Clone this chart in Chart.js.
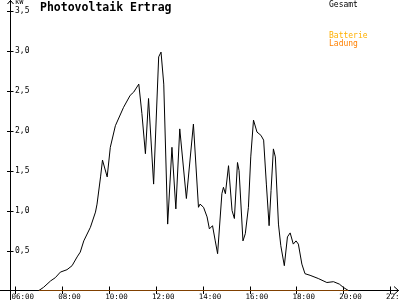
<!DOCTYPE html>
<html>
<head>
<meta charset="utf-8">
<script src="https://cdn.jsdelivr.net/npm/chart.js@4"></script>
<style>
  html, body { margin: 0; padding: 0; background: #fff; }
  canvas { display: block; }
</style>
</head>
<body>
<canvas id="pv" width="400" height="300"></canvas>
<script>
// Gesamt (kW)
var times = ["07:00","07:12","07:30","07:42","07:55","08:12","08:25","08:38","08:46","08:55",
  "09:12","09:25","09:29","09:38","09:43","09:55","10:03","10:16","10:37","10:54",
  "11:03","11:16","11:24","11:33","11:41","11:54","12:07","12:13","12:20","12:30",
  "12:41","12:51","13:01","13:18","13:36","13:49","13:53","14:02","14:11","14:17",
  "14:25","14:32","14:38","14:49","14:53","14:58","15:06","15:15","15:21","15:29",
  "15:33","15:43","15:49","15:57","16:03","16:10","16:19","16:29","16:36","16:43",
  "16:50","16:55","17:01","17:06","17:14","17:20","17:29","17:37","17:44","17:52",
  "17:59","18:05","18:14","18:22","18:35","18:56","19:18","19:35","19:50","20:00","20:13"];
var gesamt = [0,0.04,0.12,0.16,0.23,0.26,0.31,0.42,0.48,0.62,
  0.79,0.98,1.08,1.42,1.63,1.42,1.79,2.06,2.29,2.44,
  2.48,2.58,2.21,1.71,2.40,1.33,2.92,2.98,2.58,0.83,
  1.79,1.02,2.02,1.15,2.08,1.04,1.08,1.04,0.92,0.77,
  0.81,0.62,0.46,1.21,1.29,1.21,1.56,1.00,0.90,1.60,
  1.50,0.62,0.71,1.04,1.67,2.13,1.98,1.94,1.88,1.33,
  0.81,1.25,1.77,1.67,0.83,0.56,0.31,0.67,0.72,0.58,
  0.62,0.58,0.33,0.21,0.19,0.15,0.10,0.11,0.08,0.04,0];

// Ladung (kW)
var ladungTimes = ["07:00","20:13"];
var ladung = [0,0];

var yTicks = [0.5,1,1.5,2,2.5,3,3.5];
var yLabels = ["0,5","1,0","1,5","2,0","2,5","3,0","3,5"];
var xTicks = [6,8,10,12,14,16,18,20,22];
var xLabels = ["06:00","08:00","10:00","12:00","14:00","16:00","18:00","20:00","22:00"];

function toHours(t) {
    var p = t.split(":");
    return Number(p[0]) + Number(p[1]) / 60;
}

function points(ts, vs) {
    return ts.map((t, i) => ({ x: toHours(t), y: vs[i] }));
}

var axesPlugin = {
    id: "pvAxes",
    beforeDatasetsDraw(chart) {
        var ctx = chart.ctx;
        var xs = chart.scales.x, ys = chart.scales.y;
        var ax = xs.left, ay = ys.bottom;
        ctx.save();
        ctx.strokeStyle = "#000";
        ctx.lineWidth = 1;
        ctx.beginPath();
        // y axis with arrow
        ctx.moveTo(ax, 0); ctx.lineTo(ax, 300);
        ctx.moveTo(ax - 3, 4); ctx.lineTo(ax, 0.5); ctx.lineTo(ax + 3, 4);
        // x axis with arrow
        ctx.moveTo(0, ay); ctx.lineTo(399, ay);
        ctx.moveTo(394, ay - 4); ctx.lineTo(398.5, ay); ctx.lineTo(394, ay + 4);
        yTicks.forEach(v => {
            var py = Math.round(ys.getPixelForValue(v)) + 0.5;
            ctx.moveTo(ax - 3.5, py); ctx.lineTo(ax + 3, py);
        });
        xTicks.forEach(v => {
            var px = Math.round(xs.getPixelForValue(v)) + 0.5;
            ctx.moveTo(px, ay - 4); ctx.lineTo(px, ay + 3.5);
        });
        ctx.stroke();

        ctx.fillStyle = "#000";
        ctx.font = "8px 'DejaVu Sans Mono'";
        ctx.textAlign = "left";
        ctx.textBaseline = "middle";
        yTicks.forEach((v, i) => {
            ctx.fillText(yLabels[i], ax + 4.5, ys.getPixelForValue(v));
        });
        ctx.font = "7px 'DejaVu Sans Mono'";
        ctx.textBaseline = "top";
        ctx.fillText("kW", ax + 4.5, -1);

        ctx.font = "7.5px 'DejaVu Sans Mono'";
        ctx.textBaseline = "top";
        xTicks.forEach((v, i) => {
            ctx.fillText(xLabels[i], xs.getPixelForValue(v) - 4, 293);
        });

        ctx.font = "bold 11.5px 'DejaVu Sans Mono'";
        ctx.textBaseline = "alphabetic";
        ctx.fillText("Photovoltaik Ertrag", 40, 11);

        ctx.font = "8px 'DejaVu Sans Mono'";
        ctx.textBaseline = "top";
        ctx.fillText("Gesamt", 329, 1);
        ctx.fillStyle = "#FFB000";
        ctx.fillText("Batterie", 329, 32);
        ctx.fillStyle = "#FF8000";
        ctx.fillText("Ladung", 329, 40);
        ctx.restore();
    }
};

new Chart(document.getElementById("pv"), {
    type: "line",
    data: {
        datasets: [
            {
                label: "Ladung",
                data: points(ladungTimes, ladung),
                borderColor: "#FF8000",
                borderWidth: 1,
                pointRadius: 0,
                tension: 0,
                fill: false,
                order: 0
            },
            {
                label: "Gesamt",
                data: points(times, gesamt),
                borderColor: "#000",
                borderWidth: 1,
                pointRadius: 0,
                tension: 0,
                fill: false,
                order: 1
            }
        ]
    },
    options: {
        responsive: false,
        animation: false,
        events: [],
        layout: { padding: { left: 10.5, right: 0, top: 10.5, bottom: 9.5 } },
        plugins: { legend: { display: false }, tooltip: { enabled: false } },
        scales: {
            x: { type: "linear", min: 5.7867, max: 22.425, display: false },
            y: { min: 0, max: 3.5, display: false }
        }
    },
    plugins: [axesPlugin]
});
</script>
</body>
</html>
